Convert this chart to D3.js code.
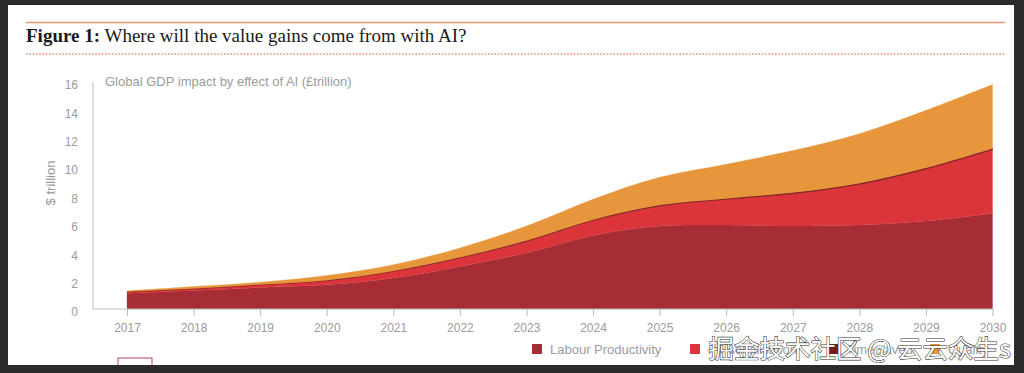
<!DOCTYPE html>
<html>
<head>
<meta charset="utf-8">
<script src="https://cdn.jsdelivr.net/npm/d3@7"></script>
<style>
  html, body { margin: 0; padding: 0; background: #2b2b2b; }
  svg { display: block; }
</style>
</head>
<body>
<svg id="chart" width="1024" height="373"></svg>
<script>
// ---- data ----
const years = [2017, 2018, 2019, 2020, 2021, 2022, 2023, 2024, 2025, 2026, 2027, 2028, 2029, 2030];
const labourProductivity = [1.10, 1.30, 1.51, 1.70, 2.18, 3.00, 3.95, 5.18, 5.84, 5.91, 5.84, 5.91, 6.19, 6.74];
const personalisation    = [0.10, 0.12, 0.19, 0.30, 0.47, 0.60, 0.82, 1.06, 1.42, 1.82, 2.29, 2.88, 3.67, 4.49];
const timeSaved          = [0.02, 0.02, 0.02, 0.03, 0.03, 0.04, 0.05, 0.05, 0.06, 0.06, 0.07, 0.07, 0.08, 0.08];
const quality            = [0.06, 0.14, 0.17, 0.33, 0.44, 0.66, 1.02, 1.44, 1.95, 2.41, 2.96, 3.48, 4.05, 4.50];
const yTicks = [0, 2, 4, 6, 8, 10, 12, 14, 16];
const seriesNames = ["Labour Productivity", "Personalisation", "Time saved", "Quality"];
const seriesKeys = ["labour", "pers", "time", "quality"];
const seriesColors = ["#a62d36", "#db343b", "#7a1a1c", "#e8963c"];
const titleBold = "Figure 1:";
const titleRest = " Where will the value gains come from with AI?";
const subtitle = "Global GDP impact by effect of AI (£trillion)";
const yTitle = "$ trillion";
const watermark = "掘金技术社区 @ 云云众生s";

// ---- build table ----
const table = years.map((y, i) => ({
  year: y, labour: labourProductivity[i], pers: personalisation[i], time: timeSaved[i], quality: quality[i]
}));

const svg = d3.select("#chart");

// white panel
svg.append("rect").attr("x", 8).attr("y", 5).attr("width", 1006).attr("height", 360).attr("fill", "#ffffff");

// header lines
svg.append("line").attr("x1", 26).attr("x2", 1005).attr("y1", 22.5).attr("y2", 22.5)
  .attr("stroke", "#e79a72").attr("stroke-width", 1.6);
svg.append("line").attr("x1", 26).attr("x2", 1005).attr("y1", 54).attr("y2", 54)
  .attr("stroke", "#e58d62").attr("stroke-width", 1.5).attr("stroke-dasharray", "1.5,1.8");

// title
const t = svg.append("text").attr("x", 26).attr("y", 42)
  .attr("font-family", "Liberation Serif, serif").attr("font-size", 19).attr("fill", "#1a1a1a");
t.append("tspan").attr("font-weight", "bold").text(titleBold);
t.append("tspan").text(titleRest);

// scales
const x = d3.scaleLinear().domain([2017, 2030]).range([127, 992.5]);
const y = d3.scaleLinear().domain([0, 16]).range([309, 81.8]);

// stack
const stack = d3.stack().keys(seriesKeys);
const layers = stack(table);
const area = d3.area()
  .x(d => x(d.data.year))
  .y0(d => y(d[0]))
  .y1(d => y(d[1]))
  .curve(d3.curveCatmullRom.alpha(0.5));

svg.append("g").selectAll("path").data(layers).join("path")
  .attr("d", area)
  .attr("fill", (d, i) => seriesColors[i])
  .attr("stroke", (d, i) => seriesColors[i])
  .attr("stroke-width", (d, i) => i === 2 ? 0.8 : 0.3);

const axisColor = "#bdbdbd";
const labelColor = "#9b9b9b";
const font = "Liberation Sans, Arial, sans-serif";

// y axis line
svg.append("line").attr("x1", 93).attr("x2", 93).attr("y1", 82).attr("y2", 309)
  .attr("stroke", axisColor).attr("stroke-width", 1);

// x axis
const xAxis = d3.axisBottom(x).tickValues(years).tickFormat(d3.format("d")).tickSize(7).tickSizeOuter(0);
const gx = svg.append("g").attr("transform", "translate(0,309)").call(xAxis);
gx.select(".domain").remove();
gx.append("line").attr("x1", 93).attr("x2", 993).attr("y1", 0).attr("y2", 0)
  .attr("stroke", axisColor).attr("stroke-width", 1);
gx.selectAll(".tick line").attr("stroke", axisColor);
gx.selectAll(".tick text").attr("fill", labelColor).attr("font-size", 12).attr("font-family", font).attr("dy", "1.05em");

// y axis labels
const yAxis = d3.axisLeft(y).tickValues(yTicks).tickSize(0).tickPadding(0);
const gy = svg.append("g").attr("transform", "translate(78,3)").call(yAxis);
gy.select(".domain").remove();
gy.selectAll(".tick text").attr("fill", labelColor).attr("font-size", 12).attr("font-family", font);

// y title
svg.append("text").attr("transform", "translate(55,183) rotate(-90)")
  .attr("text-anchor", "middle").attr("fill", labelColor).attr("font-size", 13).attr("font-family", font)
  .text(yTitle);

// subtitle
svg.append("text").attr("x", 105).attr("y", 86).attr("fill", labelColor)
  .attr("font-size", 13).attr("font-family", font).text(subtitle);

// legend
const legendX = [532, 690, 828, 930];
const lg = svg.append("g").selectAll("g").data(seriesNames).join("g")
  .attr("transform", (d, i) => `translate(${legendX[i]},344)`);
lg.append("rect").attr("width", 10).attr("height", 10).attr("fill", (d, i) => seriesColors[i]);
lg.append("text").attr("x", 18).attr("y", 9.5).attr("fill", labelColor)
  .attr("font-size", 13).attr("font-family", font).text(d => d);

// small outlined box
svg.append("rect").attr("x", 118).attr("y", 358).attr("width", 34).attr("height", 12)
  .attr("fill", "none").attr("stroke", "#b5455e").attr("stroke-width", 1);

// bottom dark band cover
svg.append("rect").attr("x", 0).attr("y", 365).attr("width", 1024).attr("height", 8).attr("fill", "#2b2b2b");

// watermark
svg.append("text").attr("x", 1011).attr("y", 358).attr("text-anchor", "end")
  .attr("font-family", "Noto Sans CJK SC, sans-serif").attr("font-size", 25.5)
  .attr("fill", "#ffffff").attr("stroke", "#333333").attr("stroke-width", 1.1)
  .attr("paint-order", "stroke").text(watermark);
</script>
</body>
</html>
